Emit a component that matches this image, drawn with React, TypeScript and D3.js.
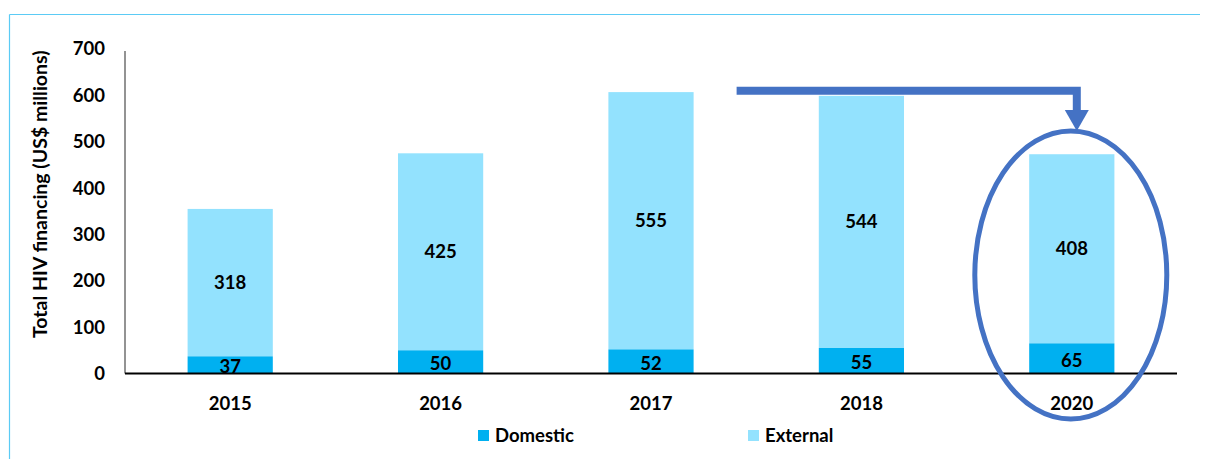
import React from "react";
import { scaleBand, scaleLinear, scaleOrdinal } from "d3";

const years = ["2015", "2016", "2017", "2018", "2020"];
const domestic = [37, 50, 52, 55, 65];
const external = [318, 425, 555, 544, 408];
const yTicks = [0, 100, 200, 300, 400, 500, 600, 700];
const seriesNames = ["Domestic", "External"];

const FONT = "Lato, 'Open Sans', sans-serif";

export default function App() {
  const width = 1205,
    height = 459;
  const margin = { top: 49, left: 125, right: 28, bottom: 86 };
  const innerBottom = height - margin.bottom + 0.5;

  const x = scaleBand<string>()
    .domain(years)
    .range([margin.left, width - margin.right])
    .paddingInner(0.595)
    .paddingOuter(0.2975);

  const y = scaleLinear().domain([0, 700]).range([innerBottom, margin.top]);

  const color = scaleOrdinal<string, string>()
    .domain(seriesNames)
    .range(["#00B0F0", "#93E2FE"]);

  const bw = x.bandwidth();

  // annotation geometry from scales
  const last = years[years.length - 1];
  const ecx = (x(last) as number) + bw / 2;
  const arrowY = y(610);
  const arrowX0 = (x("2017") as number) + bw + 43;
  const arrowX1 = ecx + 9;
  const ellipseTop = 131;
  const ellipseBottom = 419;

  return (
    <svg
      width={width}
      height={height}
      style={{ position: "absolute", left: 0, top: 0, background: "#fff" }}
      fontFamily={FONT}
    >
      {/* frame */}
      <line x1={9.5} x2={1200} y1={14.5} y2={14.5} stroke="#5BCBF5" strokeWidth={1.2} />
      <line x1={9.5} x2={9.5} y1={14.5} y2={height} stroke="#5BCBF5" strokeWidth={1.2} />

      {/* y axis */}
      <line x1={margin.left} x2={margin.left} y1={y(700) + 2} y2={innerBottom} stroke="#595959" strokeWidth={1.3} />
      {yTicks.map(t => (
        <text
          key={t}
          x={105}
          y={y(t)}
          dy="0.35em"
          textAnchor="end"
          fontSize={18.5}
          fontWeight="bold"
          fill="#000"
        >
          {t}
        </text>
      ))}
      <text
        transform={`translate(47, ${(y(0) + y(700)) / 2 - 17}) rotate(-90)`}
        textAnchor="middle"
        fontSize={19.5}
        fontWeight="bold"
        fill="#000"
      >
        Total HIV financing (US$ millions)
      </text>

      {/* bars */}
      {years.map((yr, i) => {
        const x0 = x(yr) as number;
        const d = domestic[i];
        const e = external[i];
        return (
          <g key={yr}>
            <rect x={x0} width={bw} y={y(d + e)} height={y(d) - y(d + e)} fill={color("External")} />
            <rect x={x0} width={bw} y={y(d)} height={y(0) - y(d)} fill={color("Domestic")} />
            <text
              x={x0 + bw / 2}
              y={(y(d) + y(d + e)) / 2}
              dy="0.35em"
              textAnchor="middle"
              fontSize={18.5}
              fontWeight="bold"
            >
              {e}
            </text>
            <text
              x={x0 + bw / 2}
              y={(y(0) + y(d)) / 2 + 2}
              dy="0.35em"
              textAnchor="middle"
              fontSize={18.5}
              fontWeight="bold"
            >
              {d}
            </text>
            <text
              x={x0 + bw / 2}
              y={404}
              dy="0.35em"
              textAnchor="middle"
              fontSize={18.5}
              fontWeight="bold"
            >
              {yr}
            </text>
          </g>
        );
      })}

      {/* x axis baseline */}
      <line x1={margin.left} x2={width - margin.right} y1={innerBottom} y2={innerBottom} stroke="#000" strokeWidth={2} />

      {/* legend */}
      {seriesNames.map((s, i) => {
        const lx = 478 + i * 270;
        return (
          <g key={s}>
            <rect x={lx} y={430} width={11} height={11} fill={color(s)} />
            <text x={lx + 17} y={436} dy="0.35em" fontSize={18.5} fontWeight="bold">
              {s}
            </text>
          </g>
        );
      })}

      {/* annotation arrow */}
      <path
        d={`M${arrowX0},${arrowY} H${arrowX1 - 4} V${111}`}
        fill="none"
        stroke="#4472C4"
        strokeWidth={8}
      />
      <path
        d={`M${arrowX1 - 16},${110} L${arrowX1 + 8},${110} L${arrowX1 - 4},${131} Z`}
        fill="#4472C4"
      />

      {/* ellipse highlight */}
      <ellipse
        cx={ecx - 1}
        cy={(ellipseTop + ellipseBottom) / 2}
        rx={96}
        ry={(ellipseBottom - ellipseTop) / 2}
        fill="none"
        stroke="#4472C4"
        strokeWidth={5}
      />
    </svg>
  );
}
